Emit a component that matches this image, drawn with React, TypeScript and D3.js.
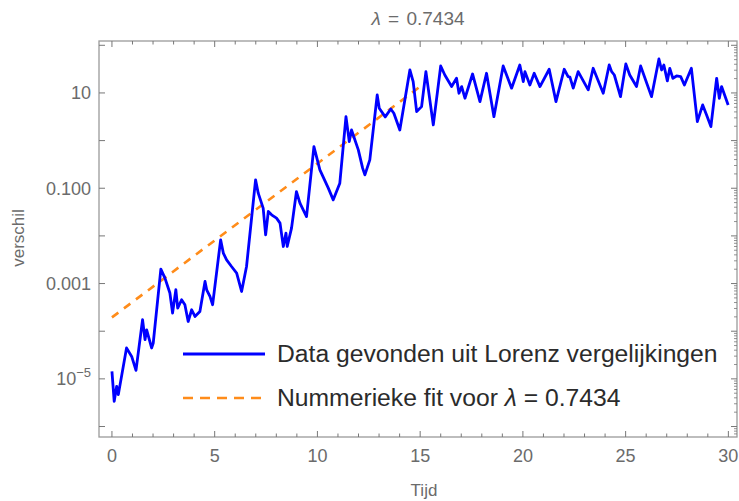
import React from 'react';
import * as d3 from 'd3';

const lambda = 0.7434;
const fitAmplitude = 1.95e-4;
const fitTimes = [0, 15];

const times = [
  0.0, 0.11, 0.23, 0.31, 0.71, 0.96, 1.17, 1.49, 1.61, 1.69, 1.93, 2.01, 2.38, 2.58, 2.82, 2.95,
  3.11, 3.2, 3.39, 3.55, 3.71, 3.88, 4.04, 4.28, 4.53, 4.61, 4.77, 4.9, 5.29, 5.42, 5.58, 5.82,
  6.07, 6.31, 6.55, 6.99, 7.12, 7.36, 7.48, 7.61, 7.77, 8.01, 8.18, 8.34, 8.47, 8.53, 8.74, 8.98,
  9.15, 9.47, 9.83, 10.12, 10.53, 10.77, 11.09, 11.39, 11.55, 11.66, 11.99, 12.2, 12.31, 12.55,
  12.91, 13.01, 13.3, 13.57, 13.72, 14.01, 14.5, 14.66, 14.83, 15.07, 15.28, 15.64, 16.0, 16.2,
  16.53, 16.77, 16.89, 17.02, 17.18, 17.55, 17.91, 18.23, 18.59, 19.04, 19.45, 19.85, 20.02,
  20.1, 20.34, 20.55, 20.83, 21.28, 21.61, 22.01, 22.2, 22.29, 22.45, 22.69, 23.18, 23.42, 23.91,
  24.2, 24.32, 24.45, 24.75, 25.01, 25.2, 25.53, 25.73, 26.26, 26.62, 26.75, 26.86, 27.03, 27.15,
  27.3, 27.48, 27.68, 27.86, 28.2, 28.49, 28.75, 28.94, 29.15, 29.43, 29.56, 29.67, 29.99,
];

const values = [
  1.44e-5, 3.37e-6, 6.97e-6, 4.67e-6, 4.45e-5, 2.96e-5, 1.51e-5, 1.74e-4, 6.64e-5, 1.07e-4,
  4.45e-5, 5.66e-5, 2.01e-3, 1.3e-3, 6.32e-4, 2.41e-4, 7.41e-4, 3.06e-4, 4.57e-4, 3.6e-4,
  1.6e-4, 2.82e-4, 2.04e-4, 2.6e-4, 1.11e-3, 7.41e-4, 5.37e-4, 3.6e-4, 8.28e-3, 4.36e-3,
  3.15e-3, 2.28e-3, 1.66e-3, 6.82e-4, 2.28e-3, 0.15, 0.0789, 0.0383, 0.01054, 0.0325, 0.0277,
  0.0236, 0.0185, 6.0e-3, 0.01146, 6.0e-3, 0.0146, 0.0853, 0.0488, 0.0255, 0.748, 0.243, 0.1005,
  0.0571, 0.128, 3.18, 0.953, 1.67, 0.638, 0.264, 0.191, 0.394, 9.08, 4.78, 3.14, 4.6, 3.75,
  1.67, 30.3, 17.3, 4.06, 5.16, 28.0, 2.13, 36.8, 23.8, 13.6, 20.3, 9.86, 13.6, 7.74, 25.0, 6.58,
  25.9, 3.18, 36.8, 12.6, 38.6, 17.3, 28.0, 14.7, 25.9, 13.6, 31.4, 6.58, 31.4, 22.0, 21.5, 12.6,
  28.0, 11.6, 32.9, 9.86, 38.6, 28.0, 23.8, 8.36, 40.5, 23.8, 13.6, 36.8, 8.36, 51.6, 30.3, 38.6,
  17.9, 32.9, 20.3, 22.7, 22.0, 14.7, 32.9, 2.5, 5.6, 3.46, 1.97, 20.3, 7.74, 13.6, 5.6,
];

const xTickValues = [0, 5, 10, 15, 20, 25, 30];
const yTickValues = [10, 0.1, 0.001, 1e-5];
const yTickLabels = ['10', '0.100', '0.001', '10|-5'];
const titleText = 'λ = 0.7434';
const xLabel = 'Tijd';
const yLabel = 'verschil';
const legendLabels = ['Data gevonden uit Lorenz vergelijkingen', 'Nummerieke fit voor λ = 0.7434'];

const W = 739;
const H = 501;
const L = 99, R = 737, T = 41, B = 437;

export default function App() {
  const x = d3.scaleLinear().domain([-0.63, 30.42]).range([L, R]);
  const y = d3.scaleLog().domain([Math.pow(10, -6.22), Math.pow(10, 2.09)]).range([B, T]);

  const data = times.map((t, i) => [t, values[i]] as [number, number]);
  const line = d3.line<[number, number]>().x(d => x(d[0])).y(d => y(d[1]));
  const fitData = fitTimes.map(t => [t, fitAmplitude * Math.exp(lambda * t)] as [number, number]);

  const minorX = d3.range(0, 31, 1);
  const decades = d3.range(-6, 3).map(e => Math.pow(10, e));
  const minorY: number[] = [];
  d3.range(-7, 3).forEach(e => {
    for (let k = 2; k <= 9; k++) {
      const v = k * Math.pow(10, e);
      if (y(v) <= B && y(v) >= T) minorY.push(v);
    }
  });
  const decadesIn = decades.filter(v => y(v) <= B && y(v) >= T);

  const frameColor = '#9a9a9a';
  const tickColor = '#777';
  const labelColor = '#6b6b6b';
  const font = 'Liberation Sans, Arial, sans-serif';
  const lamIdx = legendLabels[1].indexOf('λ');

  return (
    <svg width={W} height={H} style={{ position: 'absolute', left: 0, top: 0, background: '#fff' }}
      fontFamily={font}>
      <defs>
        <clipPath id="plotclip">
          <rect x={L} y={T} width={R - L} height={B - T} />
        </clipPath>
      </defs>
      <rect x={0} y={0} width={W} height={H} fill="#fff" />
      <rect x={L} y={T} width={R - L} height={B - T} fill="none" stroke={frameColor} strokeWidth={1.3} />
      {minorX.map(t => {
        const major = t % 5 === 0;
        const len = major ? 6 : 3.5;
        return (
          <g key={'xt' + t} stroke={tickColor} strokeWidth={1}>
            <line x1={x(t)} x2={x(t)} y1={B} y2={B - len} />
            <line x1={x(t)} x2={x(t)} y1={T} y2={T + len} />
          </g>
        );
      })}
      {decadesIn.map(v => (
        <g key={'yd' + v} stroke={tickColor} strokeWidth={1}>
          <line x1={L} x2={L + 6} y1={y(v)} y2={y(v)} />
          <line x1={R} x2={R - 6} y1={y(v)} y2={y(v)} />
        </g>
      ))}
      {minorY.map(v => (
        <g key={'ym' + v} stroke={tickColor} strokeWidth={0.8}>
          <line x1={R} x2={R - 3} y1={y(v)} y2={y(v)} />
        </g>
      ))}
      {xTickValues.map(t => (
        <text key={'xl' + t} x={x(t)} y={462} textAnchor="middle" fontSize={18} fill={labelColor}>{t}</text>
      ))}
      {yTickValues.map((v, i) => {
        const lab = yTickLabels[i];
        if (lab.includes('|')) {
          const [base, exp] = lab.split('|');
          return (
            <text key={'yl' + i} x={91} y={y(v) + 6.5} textAnchor="end" fontSize={18} fill={labelColor}>
              {base}
              <tspan dy={-8} fontSize={13}>{exp.replace('-', '\u2212')}</tspan>
            </text>
          );
        }
        return (
          <text key={'yl' + i} x={91} y={y(v) + 6.5} textAnchor="end" fontSize={18} fill={labelColor}>{lab}</text>
        );
      })}
      <text x={418} y={25} textAnchor="middle" fontSize={19} wordSpacing={2} fill={labelColor}>
        <tspan fontStyle="italic">{titleText.slice(0, 1)}</tspan>{titleText.slice(1)}
      </text>
      <text x={424} y={496} textAnchor="middle" fontSize={17} fill={labelColor}>{xLabel}</text>
      <text transform={`translate(24,238) rotate(-90)`} textAnchor="middle" fontSize={17} fill={labelColor}>{yLabel}</text>
      <g clipPath="url(#plotclip)">
        <path d={line(fitData) || ''} fill="none" stroke="#ff8c1a" strokeWidth={2.6} strokeDasharray="8 7" />
        <path d={line(data) || ''} fill="none" stroke="#0000ff" strokeWidth={2.8} strokeLinejoin="round" />
      </g>
      <line x1={183} x2={265} y1={354} y2={354} stroke="#0000ff" strokeWidth={2.8} />
      <line x1={183} x2={265} y1={398} y2={398} stroke="#ff8c1a" strokeWidth={2.6} strokeDasharray="10 7" />
      <text x={277} y={362} fontSize={24.7} fill="#2b2b2b">{legendLabels[0]}</text>
      <text x={277} y={406} fontSize={24.7} fill="#2b2b2b">
        {legendLabels[1].slice(0, lamIdx)}
        <tspan fontStyle="italic">λ</tspan>
        {legendLabels[1].slice(lamIdx + 1)}
      </text>
    </svg>
  );
}
